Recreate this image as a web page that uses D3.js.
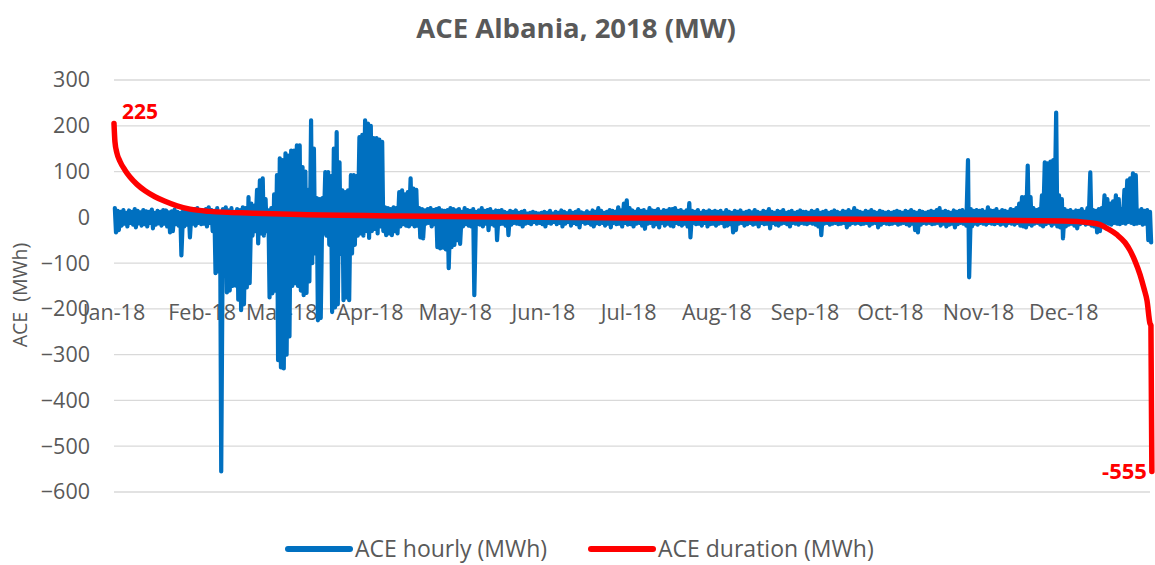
<!DOCTYPE html>
<html><head><meta charset="utf-8">
<script src="https://cdn.jsdelivr.net/npm/d3@7"></script>
<style>
body{margin:0;background:#fff}
svg{display:block}
text{font-family:"Open Sans",sans-serif;fill:#595959}
</style>
</head><body>
<svg id="chart" width="1155" height="565"></svg>
<script>
// ---------- data ----------
const chartTitle = "ACE Albania, 2018 (MW)";
const yAxisTitle = "ACE  (MWh)";
const yTicks = [300, 200, 100, 0, -100, -200, -300, -400, -500, -600];
const monthLabels = ["Jan-18","Feb-18","Mar-18","Apr-18","May-18","Jun-18","Jul-18","Aug-18","Sep-18","Oct-18","Nov-18","Dec-18"];
const seriesNames = ["ACE hourly (MWh)", "ACE duration (MWh)"];

// ACE hourly: daily maximum / minimum per month
const hourlyDailyMax = [
  [20,14,12,16,10,15,12,18,14,11,16,13,12,17,10,14,12,16,15,11,13,17,12,10,14,16,12,15,18,20,14],
  [15,18,22,16,14,20,12,18,22,15,20,12,18,16,22,20,44,30,25,60,81,85,40,15,20,50,92,129],
  [125,140,135,146,146,157,157,110,100,60,212,150,42,40,42,99,99,90,150,186,120,59,55,59,92,92,90,175,180,212,205],
  [200,173,173,170,165,22,20,18,22,20,55,59,50,55,85,63,60,20,18,15,18,20,16,18,20,15,14,16,20,18],
  [15,18,12,20,16,14,18,12,15,20,14,16,18,12,15,14,16,12,10,14,12,15,10,12,14,8,10,12,10,8,10],
  [12,10,14,8,12,10,15,12,9,14,10,12,16,11,9,13,10,15,12,20,14,10,12,16,14,12,22,15,30,37],
  [20,15,12,18,14,16,12,20,15,14,18,12,16,14,18,18,20,14,16,12,15,31,14,12,16,10,14,12,15,12,14],
  [12,14,10,16,12,10,14,12,15,10,12,14,11,16,12,10,14,12,18,12,10,14,12,16,10,12,14,10,12,15,12],
  [12,10,14,12,16,10,12,14,10,12,15,12,10,14,12,16,12,20,14,12,10,14,12,16,12,10,14,12,10,12],
  [10,12,14,12,10,14,12,16,12,10,14,12,10,12,14,12,16,20,12,14,12,10,15,12,14,16,12,125,18,14,16],
  [14,16,12,22,15,14,18,12,16,14,12,18,16,20,30,44,44,113,44,20,16,18,48,120,118,122,125,229,48,40],
  [18,14,16,12,15,14,18,12,20,98,16,14,18,20,48,40,30,35,48,40,18,60,81,85,96,92,15,18,14,16,12]
];
const hourlyDailyMin = [
  [-33,-28,-18,-14,-20,-12,-16,-22,-13,-18,-15,-20,-12,-24,-16,-13,-18,-14,-20,-33,-30,-15,-18,-83,-20,-16,-44,-14,-18,-12,-15],
  [-14,-20,-12,-30,-122,-118,-555,-125,-164,-160,-150,-149,-180,-203,-190,-153,-144,-40,-30,-57,-35,-40,-30,-175,-166,-160,-312,-328],
  [-330,-300,-260,-150,-144,-150,-160,-170,-165,-140,-100,-79,-225,-220,-35,-40,-60,-207,-197,-190,-80,-181,-175,-181,-79,-60,-40,-35,-40,-30,-45],
  [-30,-25,-35,-20,-30,-39,-35,-39,-30,-35,-20,-15,-18,-20,-15,-20,-18,-44,-46,-14,-12,-20,-15,-65,-68,-66,-70,-111,-65,-60],
  [-50,-58,-20,-15,-18,-20,-170,-15,-16,-20,-14,-28,-15,-18,-50,-15,-14,-18,-39,-16,-12,-14,-15,-20,-14,-12,-15,-10,-14,-12,-15],
  [-20,-12,-14,-10,-15,-12,-20,-14,-10,-18,-12,-15,-22,-10,-14,-12,-16,-20,-13,-15,-12,-18,-14,-22,-12,-15,-14,-20,-12,-16],
  [-15,-20,-14,-12,-18,-25,-14,-12,-20,-15,-22,-12,-18,-14,-18,-20,-12,-15,-18,-14,-20,-44,-12,-15,-14,-18,-12,-20,-15,-14,-18],
  [-14,-12,-20,-18,-15,-33,-28,-14,-12,-18,-15,-12,-16,-14,-20,-12,-15,-14,-24,-12,-16,-18,-14,-12,-15,-20,-12,-14,-16,-12,-14],
  [-15,-12,-14,-16,-20,-39,-14,-12,-16,-14,-12,-15,-14,-12,-22,-16,-12,-14,-12,-15,-14,-12,-18,-14,-12,-22,-16,-12,-14,-15],
  [-14,-12,-16,-14,-12,-15,-18,-14,-28,-33,-16,-12,-14,-12,-15,-14,-12,-18,-14,-20,-16,-14,-22,-15,-12,-14,-18,-131,-20,-14,-16],
  [-12,-14,-16,-12,-14,-15,-12,-16,-14,-18,-12,-14,-16,-12,-18,-20,-22,-15,-18,-14,-12,-16,-20,-15,-12,-18,-14,-20,-22,-46],
  [-20,-16,-14,-18,-24,-15,-12,-16,-14,-18,-20,-33,-30,-15,-12,-14,-16,-12,-14,-15,-12,-14,-10,-12,-15,-14,-12,-16,-14,-50,-55]
];

// ACE duration curve: hour rank (sorted) and value
const durationHour  = [0, 8, 25, 51, 93, 135, 194, 262, 346, 430, 532, 641, 810, 1173, 1570, 2414, 3258, 4101, 4945, 5620, 6633, 7140, 8009, 8237, 8321, 8380, 8464, 8532, 8574, 8616, 8659, 8692, 8718, 8743, 8751, 8759];
const durationValue = [205, 165, 140, 122, 103, 88, 72, 58, 45, 35, 25, 18, 13, 9, 6, 3, 1, -1, -2, -3, -5, -6, -8, -12, -16, -24, -38, -55, -72, -95, -125, -155, -182, -232, -236, -555];
const durationLabels = ["225", "-555"];

// ---------- chart ----------
const svg = d3.select("#chart");
const BLUE = "#0070C0", RED = "#FF0000", GRID = "#d9d9d9";
const t0 = Date.UTC(2018,0,1), t1 = Date.UTC(2019,0,1);
const x = d3.scaleUtc().domain([t0, t1]).range([114, 1152]);
const y = d3.scaleLinear().domain([-600, 300]).range([492, 80]);
const DAY = 864e5, HOUR = 36e5;

// gridlines
svg.append("g").selectAll("line").data(yTicks).join("line")
  .attr("x1", 114).attr("x2", 1150)
  .attr("y1", d => y(d)).attr("y2", d => y(d))
  .attr("stroke", GRID).attr("stroke-width", 1.3);

// y axis labels
const yAxis = d3.axisLeft(y).tickValues(yTicks).tickSize(0).tickPadding(0);
const gy = svg.append("g").attr("transform", "translate(90,0)").call(yAxis);
gy.select(".domain").remove();
gy.selectAll("text").style("font-size", "21.5px").attr("fill", "#595959").attr("font-family", "Open Sans");

// month labels (placed at the -200 level like the reference)
const months = monthLabels.map((m, i) => ({label: m, t: Date.UTC(2018, i, 1)}));
svg.append("g").selectAll("text").data(months).join("text")
  .attr("x", d => x(d.t)).attr("y", y(-200) + 11)
  .attr("text-anchor", "middle").style("font-size", "21.5px")
  .text(d => d.label);

// hourly series
const hourlyPts = [];
let day = 0;
hourlyDailyMax.forEach((mArr, mi) => {
  mArr.forEach((mx, i) => {
    const mn = hourlyDailyMin[mi][i];
    hourlyPts.push([t0 + (day + 0.3) * DAY, mx]);
    hourlyPts.push([t0 + (day + 0.7) * DAY, mn]);
    day++;
  });
});
const line = d3.line().x(d => x(d[0])).y(d => y(d[1]));
svg.append("path").datum(hourlyPts).attr("d", line)
  .attr("fill", "none").attr("stroke", BLUE).attr("stroke-width", 4.2)
  .attr("stroke-linejoin", "round").attr("stroke-linecap", "round");

// duration series
const durPts = durationHour.map((h, i) => [t0 + h * HOUR, durationValue[i]]);
const dline = d3.line().x(d => x(d[0])).y(d => y(d[1])).curve(d3.curveMonotoneX);
svg.append("path").datum(durPts).attr("d", dline)
  .attr("fill", "none").attr("stroke", RED).attr("stroke-width", 5.5)
  .attr("stroke-linejoin", "round").attr("stroke-linecap", "round");

// data labels
svg.append("text").attr("x", x(durPts[0][0]) + 8).attr("y", 119)
  .style("font-size", "21px").style("font-weight", "bold").style("fill", RED)
  .text(durationLabels[0]);
svg.append("text").attr("x", x(durPts[durPts.length-1][0]) - 5).attr("y", 479)
  .attr("text-anchor", "end")
  .style("font-size", "22px").style("font-weight", "bold").style("fill", RED)
  .text(durationLabels[1]);

// title
svg.append("text").attr("x", 576).attr("y", 38).attr("text-anchor", "middle")
  .style("font-size", "27.5px").style("font-weight", "bold").text(chartTitle);

// y axis title
svg.append("text").attr("transform", "translate(27,295) rotate(-90)")
  .attr("text-anchor", "middle").attr("xml:space", "preserve")
  .style("white-space", "pre").style("font-size", "19.5px").text(yAxisTitle);

// legend
const legend = [{name: seriesNames[0], color: BLUE, x: 288}, {name: seriesNames[1], color: RED, x: 591}];
const lg = svg.append("g").selectAll("g").data(legend).join("g");
lg.append("line").attr("x1", d => d.x).attr("x2", d => d.x + 62)
  .attr("y1", 549).attr("y2", 549).attr("stroke", d => d.color)
  .attr("stroke-width", 6).attr("stroke-linecap", "round");
lg.append("text").attr("x", d => d.x + 67).attr("y", 557)
  .style("font-size", "23px").text(d => d.name);
</script>
</body></html>
